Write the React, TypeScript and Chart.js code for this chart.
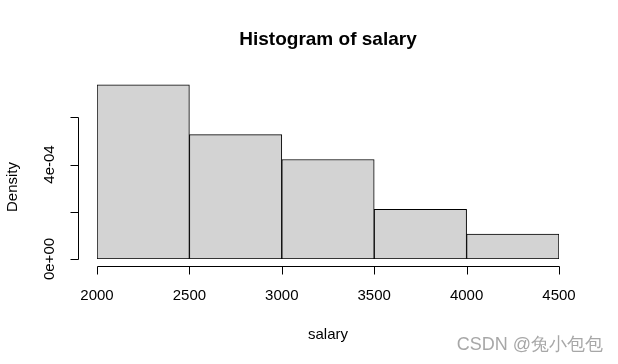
import React, { useEffect, useRef } from "react";
import { Chart, registerables } from "chart.js";

Chart.register(...registerables);

const binStarts = [2000, 2500, 3000, 3500, 4000];
const binWidth = 500;
const counts = [7, 5, 4, 2, 1];
const xTicks = [2000, 2500, 3000, 3500, 4000, 4500];
const yTicks = [0, 0.0002, 0.0004, 0.0006];
const yTickLabels = ["0e+00", "", "4e-04", ""];
const title = "Histogram of salary";
const xTitle = "salary";
const yTitle = "Density";
const watermark = "CSDN @兔小包包";

const total = counts.reduce((a, b) => a + b, 0);
const densities = counts.map((c) => c / total / binWidth);

const FONT = "'Liberation Sans', Arial, sans-serif";

const rAxes = {
  id: "rAxes",
  afterDraw(chart: any) {
    const ctx = chart.ctx;
    const xs = chart.scales.x;
    const ys = chart.scales.y;
    const area = chart.chartArea;
    ctx.save();
    ctx.strokeStyle = "#000";
    ctx.lineWidth = 1;
    // x axis
    const xAxisY = 266.5;
    const x0 = Math.round(xs.getPixelForValue(xTicks[0])) + 0.5;
    const x1 = Math.round(xs.getPixelForValue(xTicks[xTicks.length - 1])) + 0.5;
    ctx.beginPath();
    ctx.moveTo(x0, xAxisY);
    ctx.lineTo(x1, xAxisY);
    xTicks.forEach((t) => {
      const px = Math.round(xs.getPixelForValue(t)) + 0.5;
      ctx.moveTo(px, xAxisY);
      ctx.lineTo(px, xAxisY + 8);
    });
    ctx.stroke();
    ctx.fillStyle = "#000";
    ctx.font = `15px ${FONT}`;
    ctx.textAlign = "center";
    ctx.textBaseline = "middle";
    xTicks.forEach((t) => {
      ctx.fillText(String(t), xs.getPixelForValue(t), 296);
    });
    ctx.fillText(xTitle, (area.left + area.right) / 2, 335);

    // y axis
    const yAxisX = 78.5;
    const ya = Math.round(ys.getPixelForValue(yTicks[0])) + 0.5;
    const yb = Math.round(ys.getPixelForValue(yTicks[yTicks.length - 1])) + 0.5;
    ctx.beginPath();
    ctx.moveTo(yAxisX, ya);
    ctx.lineTo(yAxisX, yb);
    yTicks.forEach((t) => {
      const py = Math.round(ys.getPixelForValue(t)) + 0.5;
      ctx.moveTo(yAxisX, py);
      ctx.lineTo(yAxisX - 8, py);
    });
    ctx.stroke();
    yTicks.forEach((t, i) => {
      const lbl = yTickLabels[i];
      if (!lbl) return;
      ctx.save();
      ctx.translate(50, ys.getPixelForValue(t));
      ctx.rotate(-Math.PI / 2);
      ctx.fillText(lbl, 0, 0);
      ctx.restore();
    });
    ctx.save();
    ctx.translate(13, 187);
    ctx.rotate(-Math.PI / 2);
    ctx.fillText(yTitle, 0, 0);
    ctx.restore();

    // title
    ctx.font = `bold 19px ${FONT}`;
    ctx.fillText(title, (area.left + area.right) / 2, 40);

    // watermark
    ctx.font = `18px ${FONT}`;
    ctx.textAlign = "right";
    ctx.fillStyle = "rgba(130,130,130,0.7)";
    ctx.fillText(watermark, 603, 345);
    ctx.restore();
  },
};

export default function App() {
  const ref = useRef<HTMLCanvasElement | null>(null);
  useEffect(() => {
    document.body.style.margin = "0";
    const canvas = ref.current!;
    const chart = new Chart(canvas, {
      type: "bar",
      data: {
        datasets: [
          {
            data: binStarts.map((s, i) => ({ x: s + binWidth / 2, y: densities[i] })),
            backgroundColor: "#d3d3d3",
            borderColor: "#000",
            borderWidth: 1,
            borderSkipped: false,
            barPercentage: 1,
            categoryPercentage: 1,
          } as any,
        ],
      },
      options: {
        animation: false,
        responsive: false,
        maintainAspectRatio: false,
        layout: { padding: { left: 97, right: 59, top: 70, bottom: 105 } },
        plugins: { legend: { display: false }, tooltip: { enabled: false }, title: { display: false } },
        scales: {
          x: { type: "linear", min: 2000, max: 4500, display: false, offset: false },
          y: { min: 0, max: 0.0008, display: false },
        },
      },
      plugins: [rAxes],
    });
    return () => chart.destroy();
  }, []);
  return <canvas ref={ref} width={618} height={364} style={{ display: "block" }} />;
}
